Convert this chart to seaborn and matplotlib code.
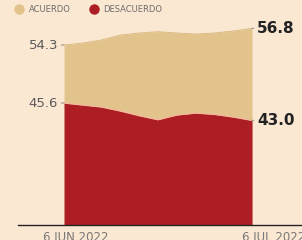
import matplotlib
matplotlib.use("Agg")
import matplotlib.pyplot as plt
import matplotlib.transforms as mtrans
import seaborn as sns
import pandas as pd
import numpy as np

# Data
step = list(range(11))
acuerdo = [54.3, 54.6, 55.05, 55.8, 56.1, 56.3, 56.1, 55.95, 56.1, 56.4, 56.8]
desacuerdo = [45.6, 45.3, 45.0, 44.4, 43.7, 43.1, 43.8, 44.1, 43.9, 43.5, 43.0]
series_names = ["ACUERDO", "DESACUERDO"]
x_labels = ["6 JUN 2022", "6 JUL 2022"]

BG = "#FBE8D3"
BEIGE = "#E2C38C"
RED = "#AC1E24"
EDGE = "#F4B99C"
GREY = "#6b6b6b"

df = pd.DataFrame({"step": step, "acuerdo": acuerdo, "desacuerdo": desacuerdo})

sns.set_theme(style="white")
plt.rcParams["font.family"] = ["DejaVu Sans"]

fig = plt.figure(figsize=(3.02, 2.40), dpi=100, facecolor=BG)
ax = fig.add_axes([18 / 302, 15 / 240, 284 / 302, 205 / 240])
ax.set_facecolor(BG)

base = 27.3
ax.fill_between(df["step"], base, df["acuerdo"], color=BEIGE, lw=0, zorder=1)
ax.fill_between(df["step"], base, df["desacuerdo"], color=RED, lw=0, zorder=2)
sns.lineplot(data=df, x="step", y="desacuerdo", color=EDGE, lw=1.0, ax=ax, zorder=3)
sns.lineplot(data=df, x="step", y="acuerdo", color="#D8B67A", lw=0.6, ax=ax, zorder=3)

ax.set_xlim(-2.45, 12.66)
ax.set_ylim(base, 58.05)
for s in ["top", "right", "left"]:
    ax.spines[s].set_visible(False)
ax.spines["bottom"].set_color("#222222")
ax.spines["bottom"].set_linewidth(1.0)
ax.set_xlabel("")
ax.set_ylabel("")
ax.set_yticks([])
ax.set_xticks([step[0], step[-1]])
ax.set_xticklabels(x_labels, fontsize=8.5, color="#777777")
ax.tick_params(axis="x", length=0, pad=4)
offs = [12, 22]
for lab, o in zip(ax.get_xticklabels(), offs):
    lab.set_transform(lab.get_transform() + mtrans.ScaledTranslation(o / 100, 0, fig.dpi_scale_trans))

# left labels
for v in [acuerdo[0], desacuerdo[0]]:
    ax.annotate(f"{v:.1f}", xy=(step[0], v), xytext=(-6, 0), textcoords="offset pixels",
                ha="right", va="center", fontsize=9.5, color="#5a5a5a",
                arrowprops=dict(arrowstyle="-", color="#888888", lw=0.7, shrinkA=0, shrinkB=0))
# right labels
for v in [acuerdo[-1], desacuerdo[-1]]:
    ax.annotate(f"{v:.1f}", xy=(step[-1], v), xytext=(5, 0), textcoords="offset pixels",
                ha="left", va="center", fontsize=11, color="#222222", fontweight="bold",
                arrowprops=dict(arrowstyle="-", color="#888888", lw=0.7, shrinkA=0, shrinkB=0))

# legend
handles = [plt.Line2D([], [], marker="o", ls="", color=c, markersize=6.5) for c in [BEIGE, RED]]
fig.legend(handles, series_names, loc="upper left", bbox_to_anchor=(6 / 302, 1.0),
           ncol=2, frameon=False, fontsize=6.0, handletextpad=0.1, columnspacing=1.8,
           labelcolor=GREY, borderaxespad=0.2)

fig.savefig("out.png", dpi=100, facecolor=BG)
